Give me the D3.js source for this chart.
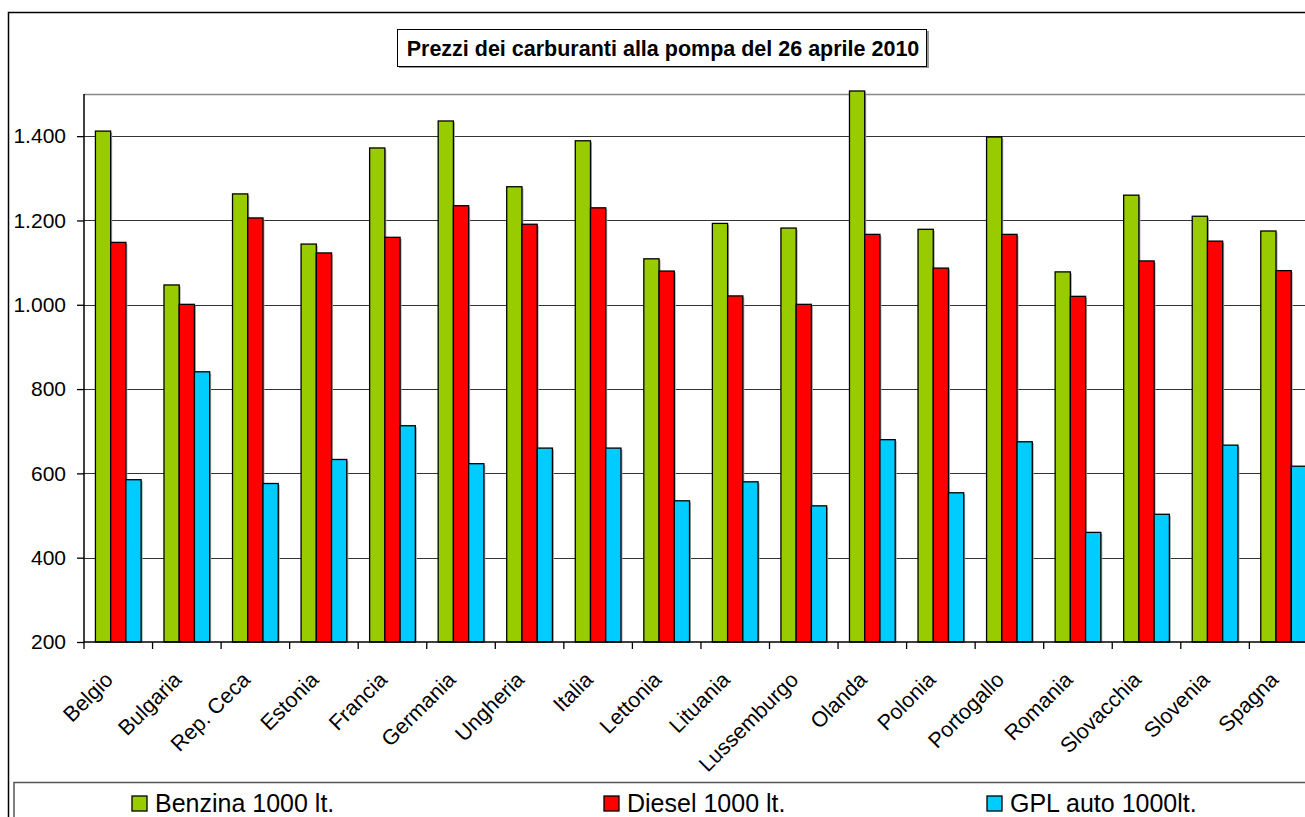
<!DOCTYPE html>
<html>
<head>
<meta charset="utf-8">
<script src="https://cdn.jsdelivr.net/npm/d3@7"></script>
<style>
  body { margin: 0; background: #fff; }
  text { font-family: Arial, "Liberation Sans", sans-serif; fill: #000; }
</style>
</head>
<body>
<svg id="chart" width="1305" height="817"></svg>
<script>
// data
const countries = ["Belgio", "Bulgaria", "Rep. Ceca", "Estonia", "Francia", "Germania", "Ungheria", "Italia",
  "Lettonia", "Lituania", "Lussemburgo", "Olanda", "Polonia", "Portogallo", "Romania", "Slovacchia", "Slovenia", "Spagna"];
const benzina = [1412, 1047, 1263, 1144, 1372, 1436, 1280, 1389, 1109, 1193, 1182, 1540, 1179, 1398, 1078, 1260, 1210, 1175];
const diesel = [1148, 1001, 1206, 1123, 1160, 1235, 1191, 1230, 1080, 1021, 1001, 1167, 1087, 1167, 1020, 1104, 1151, 1081];
const gpl = [585, 841, 576, 633, 713, 623, 660, 660, 535, 580, 523, 680, 554, 675, 460, 503, 667, 617];
const seriesNames = ["Benzina 1000 lt.", "Diesel 1000 lt.", "GPL auto 1000lt."];
const seriesColors = ["#99cc00", "#ff0000", "#00ccff"];
const yTicks = [200, 400, 600, 800, 1000, 1200, 1400];
const title = "Prezzi dei carburanti alla pompa del 26 aprile 2010";

const svg = d3.select("#chart");

// plot area
const plot = { left: 84, top: 94, bottom: 642, right: 84 + 18 * 68.55 };

const x = d3.scaleBand().domain(countries).range([plot.left, plot.right]).padding(0);
const xs = d3.scaleBand().domain(d3.range(3)).range([0, x.bandwidth()]).paddingOuter(0.75);
const y = d3.scaleLinear().domain([200, 1500]).range([plot.bottom, plot.top]);

const it = d3.formatLocale({ decimal: ",", thousands: ".", grouping: [3], currency: ["", ""] });
const fmt = it.format(",");

// outer chart border
svg.append("rect")
  .attr("x", 8.5).attr("y", 12.5).attr("width", 1320).attr("height", 830)
  .attr("fill", "none").attr("stroke", "#000").attr("stroke-width", 1.5);

// title box
svg.append("rect").attr("x", 399).attr("y", 31).attr("width", 530).attr("height", 37).attr("fill", "#999");
svg.append("rect")
  .attr("x", 397.5).attr("y", 29.5).attr("width", 529).attr("height", 37)
  .attr("fill", "#fff").attr("stroke", "#000").attr("stroke-width", 1);
svg.append("text")
  .attr("x", 663).attr("y", 55.5)
  .attr("text-anchor", "middle")
  .style("font-size", "21.5px").style("font-weight", "bold")
  .text(title);

// plot area top border
svg.append("line")
  .attr("x1", plot.left).attr("x2", plot.right)
  .attr("y1", plot.top + 0.5).attr("y2", plot.top + 0.5)
  .attr("stroke", "#888").attr("stroke-width", 1.5);

// gridlines
svg.append("g").selectAll("line")
  .data(yTicks.filter(d => d > 200))
  .join("line")
  .attr("x1", plot.left).attr("x2", plot.right)
  .attr("y1", d => Math.round(y(d)) + 0.5).attr("y2", d => Math.round(y(d)) + 0.5)
  .attr("stroke", "#333").attr("stroke-width", 1);

// bars
const rows = countries.map((c, i) => ({ country: c, values: [benzina[i], diesel[i], gpl[i]] }));
const plotTop = y.range()[1];
const barY = v => Math.max(y(v), plotTop - 3);

const groups = svg.append("g").selectAll("g")
  .data(rows)
  .join("g")
  .attr("transform", d => "translate(" + x(d.country) + ",0)");

const bars = groups.selectAll("g")
  .data(d => d.values.map((v, k) => ({ k: k, v: v })))
  .join("g");

// little shadow on the right like excel
bars.append("rect")
  .attr("x", d => xs(d.k) + 1.5)
  .attr("y", d => barY(d.v) + 1.5)
  .attr("width", xs.bandwidth())
  .attr("height", d => plot.bottom - barY(d.v) - 1.5)
  .attr("fill", "#aaa");

bars.append("rect")
  .attr("x", d => xs(d.k))
  .attr("y", d => barY(d.v))
  .attr("width", xs.bandwidth())
  .attr("height", d => plot.bottom - barY(d.v))
  .attr("fill", d => seriesColors[d.k])
  .attr("stroke", "#000").attr("stroke-width", 1.3);

// y axis
const yAxis = svg.append("g")
  .attr("transform", "translate(" + plot.left + ",0)")
  .call(d3.axisLeft(y).tickValues(yTicks).tickFormat(fmt).tickSize(7).tickPadding(11));
yAxis.select(".domain").attr("stroke", "#000").attr("stroke-width", 1.5)
  .attr("d", "M0," + plot.top + "V" + plot.bottom);
yAxis.selectAll(".tick line").attr("stroke", "#000").attr("stroke-width", 1.3);
yAxis.selectAll("text").style("font-size", "21px").attr("fill", "#000");
yAxis.attr("font-family", null).attr("font-size", null);

// x axis line and boundary ticks
svg.append("line")
  .attr("x1", plot.left).attr("x2", plot.right)
  .attr("y1", plot.bottom).attr("y2", plot.bottom)
  .attr("stroke", "#000").attr("stroke-width", 1.5);
svg.append("g").selectAll("line")
  .data(countries.concat(["end"]))
  .join("line")
  .attr("x1", (d, i) => plot.left + i * x.step()).attr("x2", (d, i) => plot.left + i * x.step())
  .attr("y1", plot.bottom).attr("y2", plot.bottom + 7)
  .attr("stroke", "#000").attr("stroke-width", 1.3);

// rotated category labels
svg.append("g").selectAll("text")
  .data(countries)
  .join("text")
  .attr("text-anchor", "end")
  .attr("transform", d => "translate(" + (x(d) + x.bandwidth() / 2 - 4) + "," + (plot.bottom + 39) + ") rotate(-45)")
  .style("font-size", "21.5px")
  .text(d => d);

// legend
svg.append("rect")
  .attr("x", 14).attr("y", 782.5).attr("width", 1310).attr("height", 60)
  .attr("fill", "#fff").attr("stroke", "#555").attr("stroke-width", 1.5);

const legendX = [132, 604, 987];
const leg = svg.append("g").selectAll("g")
  .data(seriesNames)
  .join("g")
  .attr("transform", (d, i) => "translate(" + legendX[i] + ",796)");
leg.append("rect")
  .attr("width", 15).attr("height", 15)
  .attr("fill", (d, i) => seriesColors[i])
  .attr("stroke", "#000").attr("stroke-width", 1.3);
leg.append("text")
  .attr("x", 23).attr("y", 16)
  .style("font-size", "25px")
  .text(d => d);
</script>
</body>
</html>
